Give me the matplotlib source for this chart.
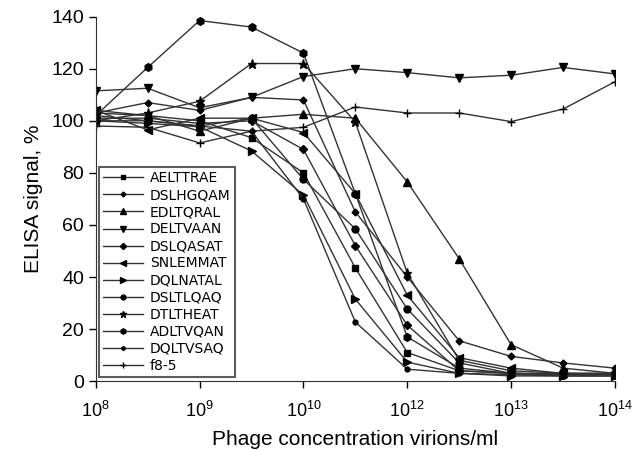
import matplotlib
matplotlib.use("Agg")
import matplotlib.pyplot as plt
import numpy as np

plt.rcParams['font.family'] = ['Liberation Sans', 'DejaVu Sans']
plt.rcParams['mathtext.default'] = 'regular'

# dilution steps (half a decade on the printed axis)
steps = np.arange(11) / 2.0
tick_labels = ['$10^{8}$', '$10^{9}$', '$10^{10}$', '$10^{12}$', '$10^{13}$', '$10^{14}$']

AELTTRAE = [103, 102, 100, 93.5, 80, 43.5, 11, 4, 3, 2.5, 2.5]
DSLHGQAM = [103, 107, 104, 109, 108, 65, 40, 15.5, 9.5, 7, 5]
EDLTQRAL = [104, 102, 96, 101, 102.5, 101, 76.5, 47, 14, 5, 3]
DELTVAAN = [111.5, 112.5, 105, 109, 117, 120, 118.5, 116.5, 117.5, 120.5, 118]
DSLQASAT = [101, 101, 99, 100, 89, 52, 21.5, 4, 3, 2.5, 2.5]
SNLEMMAT = [104, 96.5, 101, 101, 95.5, 72, 33, 9, 5, 3, 2.5]
DQLNATAL = [100, 99, 97.7, 88.4, 71.5, 31.5, 7.3, 3, 2, 2, 2]
DSLTLQAQ = [100, 100, 98, 101, 77.5, 58.5, 27.7, 7, 3, 2.5, 2.5]
DTLTHEAT = [100, 103, 107.5, 122, 122, 99.5, 41.5, 8, 4, 3, 3]
ADLTVQAN = [102, 120.5, 138.5, 136, 126, 72, 17, 5, 3, 3, 3]
DQLTVSAQ = [102, 100, 98, 96, 70, 22.7, 4.6, 3, 2.5, 2, 2]
f8_5 = [98, 97.5, 91.5, 96, 97.5, 105.3, 103, 103, 99.7, 104.5, 115]

series = [
	('AELTTRAE', AELTTRAE, 's', 4.5),
	('DSLHGQAM', DSLHGQAM, 'D', 3.5),
	('EDLTQRAL', EDLTQRAL, '^', 6),
	('DELTVAAN', DELTVAAN, 'v', 6),
	('DSLQASAT', DSLQASAT, 'D', 4.5),
	('SNLEMMAT', SNLEMMAT, '<', 6),
	('DQLNATAL', DQLNATAL, '>', 6),
	('DSLTLQAQ', DSLTLQAQ, 'o', 5),
	('DTLTHEAT', DTLTHEAT, '*', 6.5),
	('ADLTVQAN', ADLTVQAN, 'h', 5.5),
	('DQLTVSAQ', DQLTVSAQ, 'o', 3.5),
	('f8-5', f8_5, '+', 6),
]

fig = plt.figure(figsize=(6.34, 4.5), dpi=100)
ax = fig.add_axes([0.151, 0.153, 0.819, 0.81])

for name, vals, mk, ms in series:
	ax.plot(steps, vals, color='#333333', lw=1.0, marker=mk, ms=ms,
			mfc='black', mec='black', mew=1.0, label=name)

ax.set_xlim(0, 5)
ax.set_ylim(0, 140)
ax.set_xticks(np.arange(6))
ax.set_xticklabels(tick_labels, fontsize=13)
ax.set_yticks(np.arange(0, 141, 20))
ax.tick_params(axis='y', labelsize=14, length=5, width=1, direction='out')
ax.tick_params(axis='x', length=5, width=1, direction='out', pad=9)
for s in ['top', 'right']:
	ax.spines[s].set_visible(False)
ax.spines['left'].set_color('#333333')
ax.spines['bottom'].set_color('#333333')

ax.set_ylabel('ELISA signal, %', fontsize=15, labelpad=6)
ax.set_xlabel('Phage concentration virions/ml', fontsize=15, labelpad=7)

leg = ax.legend(loc='upper left', bbox_to_anchor=(0.0, 0.595),
				prop={'family': 'DejaVu Sans', 'size': 10},
				frameon=True, fancybox=False, handlelength=2.9, handletextpad=0.5,
				labelspacing=0.22, borderpad=0.3, borderaxespad=0.2, markerscale=0.7)
leg.get_frame().set_edgecolor('#333333')
leg.get_frame().set_linewidth(1.5)

fig.savefig('out.png', dpi=100)
